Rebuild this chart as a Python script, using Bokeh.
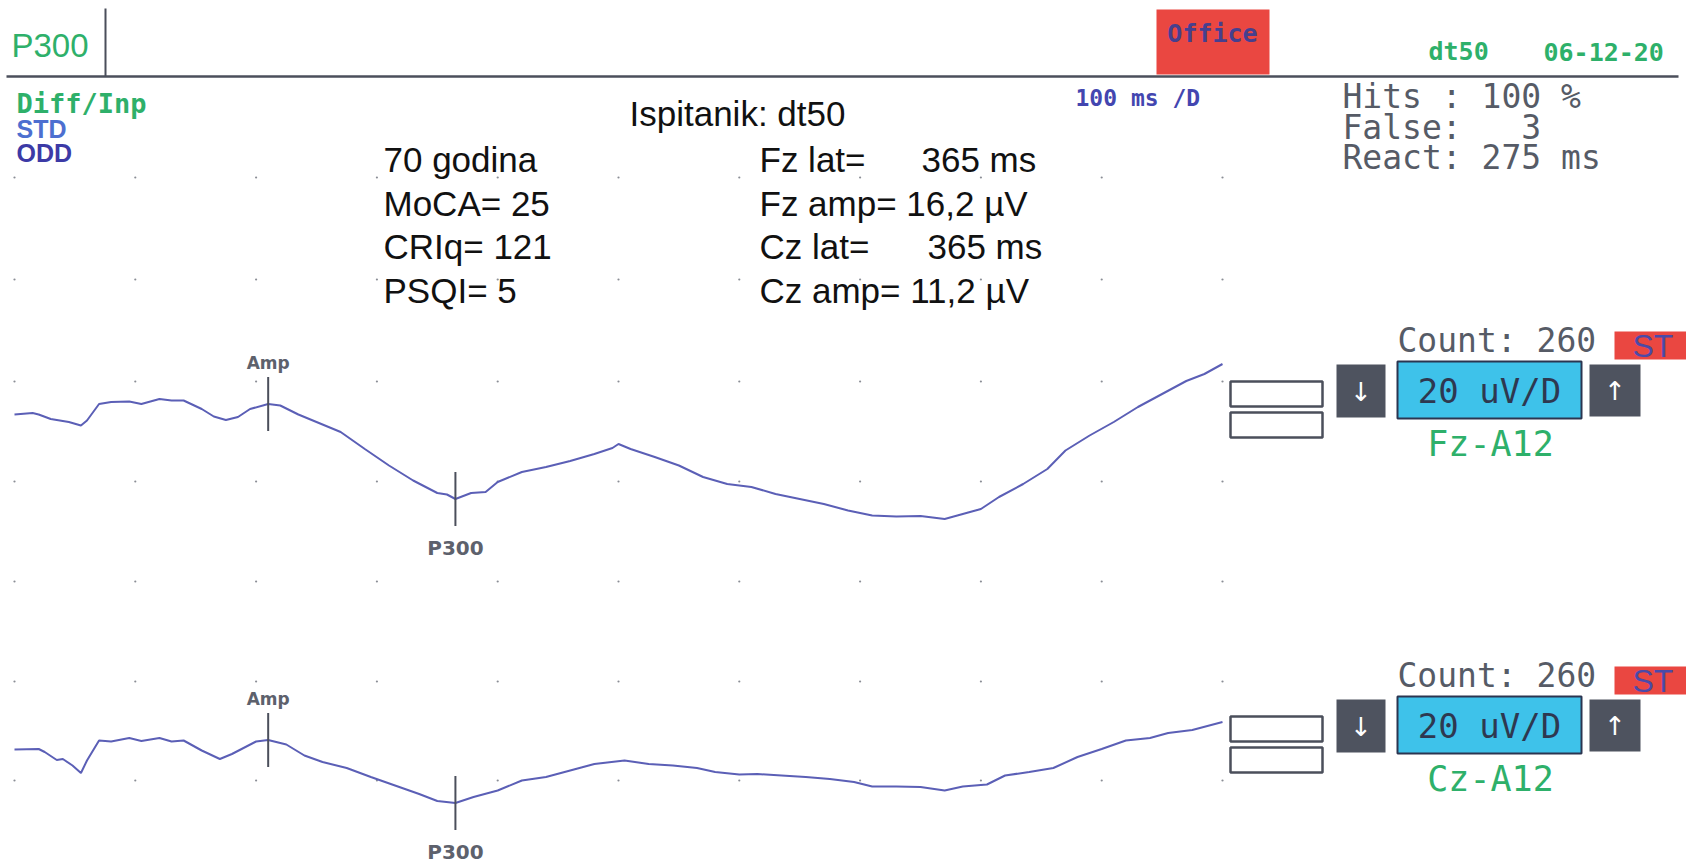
import numpy as np
from bokeh.plotting import figure
from bokeh.models import Range1d
from bokeh.core.properties import value
from bokeh.embed import file_html
from bokeh.resources import INLINE

# ---------------- data ----------------
# Fz-A12 averaged ERP: time (ms) and amplitude (uV, positive plotted downward)
fz_time = [0, 15, 20, 30, 45, 55, 60, 70, 80, 95, 105, 120, 130, 140, 155, 165, 175, 185,
           195, 210, 220, 235, 250, 270, 290, 310, 330, 350, 358, 365, 378, 390, 400, 420,
           440, 460, 480, 495, 500, 510, 530, 550, 570, 590, 610, 630, 650, 670, 690, 710,
           730, 750, 770, 785, 800, 815, 835, 855, 870, 890, 910, 930, 950, 970, 985, 1000]
fz_uv = [0.0, -0.3, 0.0, 0.9, 1.5, 2.2, 1.2, -2.1, -2.5, -2.6, -2.1, -3.1, -2.8, -2.8, -1.1,
         0.4, 1.1, 0.5, -1.1, -2.1, -1.8, 0.0, 1.5, 3.5, 6.9, 10.2, 13.2, 15.7, 16.0, 16.9,
         15.7, 15.5, 13.5, 11.5, 10.5, 9.3, 7.9, 6.7, 5.9, 6.9, 8.5, 10.2, 12.5, 13.9, 14.5,
         15.9, 16.9, 17.9, 19.2, 20.2, 20.4, 20.3, 20.9, 19.9, 18.9, 16.5, 13.9, 10.9, 7.2,
         4.2, 1.5, -1.5, -4.1, -6.7, -8.1, -10.1]

# Cz-A12 averaged ERP
cz_time = [0, 20, 25, 35, 40, 48, 55, 60, 70, 80, 95, 105, 120, 130, 140, 155, 170, 180,
           200, 210, 225, 240, 255, 275, 295, 315, 335, 350, 365, 380, 400, 420, 440, 460,
           480, 505, 525, 545, 565, 580, 600, 615, 635, 655, 675, 695, 710, 730, 750, 770,
           785, 805, 820, 840, 860, 880, 900, 920, 940, 955, 975, 1000]
cz_uv = [0.0, -0.1, 0.5, 2.1, 1.9, 3.2, 4.7, 2.2, -1.8, -1.6, -2.3, -1.7, -2.3, -1.6, -1.8,
         0.2, 1.9, 0.9, -1.6, -1.9, -1.0, 1.2, 2.5, 3.7, 5.5, 7.2, 8.9, 10.3, 10.7, 9.5, 8.2,
         6.2, 5.5, 4.2, 2.9, 2.2, 2.9, 3.2, 3.7, 4.5, 5.0, 4.9, 5.2, 5.5, 5.9, 6.5, 7.4, 7.4,
         7.5, 8.2, 7.4, 7.0, 5.2, 4.5, 3.7, 1.5, -0.1, -1.8, -2.3, -3.3, -3.9, -5.5]

marker_amp_ms = [210, 210]      # Fz, Cz
marker_p300_ms = [365, 365]     # Fz, Cz
grid_ms = [0, 100, 200, 300, 400, 500, 600, 700, 800, 900, 1000]

channels = ["Fz-A12", "Cz-A12"]
counts = ["Count:\u00a0260", "Count:\u00a0260"]
scale_labels = ["20\u00a0uV/D", "20\u00a0uV/D"]
info_left = ["70 godina", "MoCA= 25", "CRIq= 121", "PSQI= 5"]
info_right = ["Fz lat=", "Fz amp= 16,2 µV", "Cz lat=", "Cz amp= 11,2 µV"]
info_right_val = ["365 ms", "", "365 ms", ""]
stats = ["Hits\u00a0:\u00a0100\u00a0%", "False:\u00a0\u00a0\u00a03", "React:\u00a0275\u00a0ms"]

# ---------------- figure ----------------
W, H = 1686, 867
p = figure(width=W, height=H, output_backend="svg", toolbar_location=None,
           x_range=Range1d(0, W), y_range=Range1d(H, 0),
           x_axis_location=None, y_axis_location=None, min_border=0)
p.grid.visible = False
p.outline_line_color = None
p.background_fill_color = "white"
p.border_fill_color = "white"

# display scales: 100 ms / division (120.8 px), 20 uV / division (100 px)
px_per_ms = 1.208
x0 = 14.0
p.extra_x_ranges = {"ms": Range1d((0 - x0) / px_per_ms, (W - x0) / px_per_ms)}
px_per_uv = 5.0
base_fz, base_cz = 414.0, 749.0
p.extra_y_ranges = {
    "fz": Range1d((H - base_fz) / px_per_uv, (0 - base_fz) / px_per_uv),
    "cz": Range1d((H - base_cz) / px_per_uv, (0 - base_cz) / px_per_uv),
}

GREEN = "#2eb06a"
GRAY = "#565b66"
DARK = "#4b4f5b"
TRACE = "#5b5fb6"
MONO = "DejaVu Sans Mono"
SANS = "Liberation Sans"

# dot grid
rows_px = [177, 279, 381, 481, 581, 681, 780]
gx = [t for t in grid_ms for _ in rows_px]
gy = [r for _ in grid_ms for r in rows_px]
p.scatter(gx, gy, x_range_name="ms", size=2.2, color="#8a8d95", line_color=None)

# header
p.segment(x0=[6], y0=[76], x1=[1678], y1=[76], line_color=DARK, line_width=2.5)
p.segment(x0=[105], y0=[8], x1=[105], y1=[76], line_color=DARK, line_width=2)
p.text(x=[11], y=[45], text=["P300"], text_font=value(SANS), text_font_size="33px",
       text_color=GREEN, text_baseline="middle")
p.quad(left=[1156], right=[1269], top=[9], bottom=[74], fill_color="#ea4741", line_color=None)
p.text(x=[1212], y=[33], text=["Office"], text_font=value(MONO), text_font_size="25px",
       text_font_style="bold", text_color="#463f8e", text_align="center", text_baseline="middle")
p.text(x=[1428], y=[51], text=["dt50"], text_font=value(MONO), text_font_size="25px",
       text_font_style="bold", text_color=GREEN, text_baseline="middle")
p.text(x=[1543], y=[51], text=["06-12-20"], text_font=value(MONO), text_font_size="25px",
       text_font_style="bold", text_color=GREEN, text_baseline="middle")
p.text(x=[1075], y=[97], text=["100\u00a0ms\u00a0/D"], text_font=value(MONO), text_font_size="23px",
       text_font_style="bold", text_color="#4346b0", text_baseline="middle")

# legend-like labels
p.text(x=[16], y=[103], text=["Diff/Inp"], text_font=value(MONO), text_font_size="27px",
       text_font_style="bold", text_color=GREEN, text_baseline="middle")
p.text(x=[16], y=[128], text=["STD"], text_font=value(SANS), text_font_size="25px",
       text_font_style="bold", text_color="#4d6fd0", text_baseline="middle")
p.text(x=[16], y=[152], text=["ODD"], text_font=value(SANS), text_font_size="25px",
       text_font_style="bold", text_color="#3c3aa6", text_baseline="middle")

# subject info
FS = "35px"
p.text(x=[629], y=[113], text=["Ispitanik: dt50"], text_font=value(SANS), text_font_size=FS,
       text_color="#111111", text_baseline="middle")
rows_info = [159, 203, 246, 290]
p.text(x=[383] * 4, y=rows_info, text=info_left, text_font=value(SANS), text_font_size=FS,
       text_color="#111111", text_baseline="middle")
p.text(x=[759] * 4, y=rows_info, text=info_right, text_font=value(SANS), text_font_size=FS,
       text_color="#111111", text_baseline="middle")
p.text(x=[921, 921, 927, 927], y=rows_info, text=info_right_val, text_font=value(SANS),
       text_font_size=FS, text_color="#111111", text_baseline="middle")

# stats
p.text(x=[1342] * 3, y=[96, 127, 157], text=stats, text_font=value(MONO), text_font_size="33px",
       text_color=GRAY, text_baseline="middle")

# traces
p.line(fz_time, fz_uv, x_range_name="ms", y_range_name="fz", line_color=TRACE, line_width=2)
p.line(cz_time, cz_uv, x_range_name="ms", y_range_name="cz", line_color=TRACE, line_width=2)

# markers
half = 5.4
for i, (tt, vv, rn) in enumerate([(fz_time, fz_uv, "fz"), (cz_time, cz_uv, "cz")]):
    a_t = marker_amp_ms[i]
    p_t = marker_p300_ms[i]
    a_v = float(np.interp(a_t, tt, vv))
    p_v = float(np.interp(p_t, tt, vv))
    p.segment(x0=[a_t, p_t], y0=[a_v - half, p_v - half], x1=[a_t, p_t], y1=[a_v + half, p_v + half],
              x_range_name="ms", y_range_name=rn, line_color=DARK, line_width=2)
    p.text(x=[a_t], y=[a_v - half - 2.8], text=["Amp"], x_range_name="ms", y_range_name=rn,
           text_font=value("DejaVu Sans"), text_font_size="17px", text_font_style="bold",
           text_color="#5d616c", text_align="center", text_baseline="middle")
    p.text(x=[p_t], y=[p_v + half + 4.3], text=["P300"], x_range_name="ms", y_range_name=rn,
           text_font=value("DejaVu Sans"), text_font_size="20px", text_font_style="bold",
           text_color="#5d616c", text_align="center", text_baseline="middle")

# right-hand channel panels
for k, off in enumerate([0, 335]):
    # empty boxes
    p.quad(left=[1230, 1230], right=[1322, 1322], top=[381 + off, 412 + off],
           bottom=[406 + off, 437 + off], fill_color="white", line_color=DARK, line_width=2.5)
    # buttons
    p.quad(left=[1336, 1589], right=[1385, 1640], top=[364 + off, 364 + off],
           bottom=[417 + off, 416 + off], fill_color="#4e535f", line_color=None)
    p.text(x=[1360.5, 1614.5], y=[391 + off, 390 + off], text=["↓", "↑"],
           text_font=value("DejaVu Sans"), text_font_size="26px", text_color="white",
           text_align="center", text_baseline="middle")
    # scale box
    p.quad(left=[1397], right=[1581], top=[361 + off], bottom=[418 + off],
           fill_color="#3ec2ea", line_color="#2b3550", line_width=2)
    p.text(x=[1489], y=[390 + off], text=[scale_labels[k]], text_font=value(MONO),
           text_font_size="34px", text_color="#2e3850", text_align="center", text_baseline="middle")
    # count
    p.text(x=[1397], y=[340 + off], text=[counts[k]], text_font=value(MONO),
           text_font_size="33px", text_color=GRAY, text_baseline="middle")
    p.quad(left=[1614], right=[1686], top=[331 + off], bottom=[359 + off],
           fill_color="#ea4741", line_color=None)
    p.text(x=[1632], y=[345 + off], text=["ST"], text_font=value(SANS), text_font_size="32px",
           text_color="#4b4aa8", text_baseline="middle")
    # channel name
    p.text(x=[1490], y=[443 + off], text=[channels[k]], text_font=value(MONO),
           text_font_size="35px", text_color=GREEN, text_align="center", text_baseline="middle")

open("out.html", "w").write(file_html(p, INLINE))
